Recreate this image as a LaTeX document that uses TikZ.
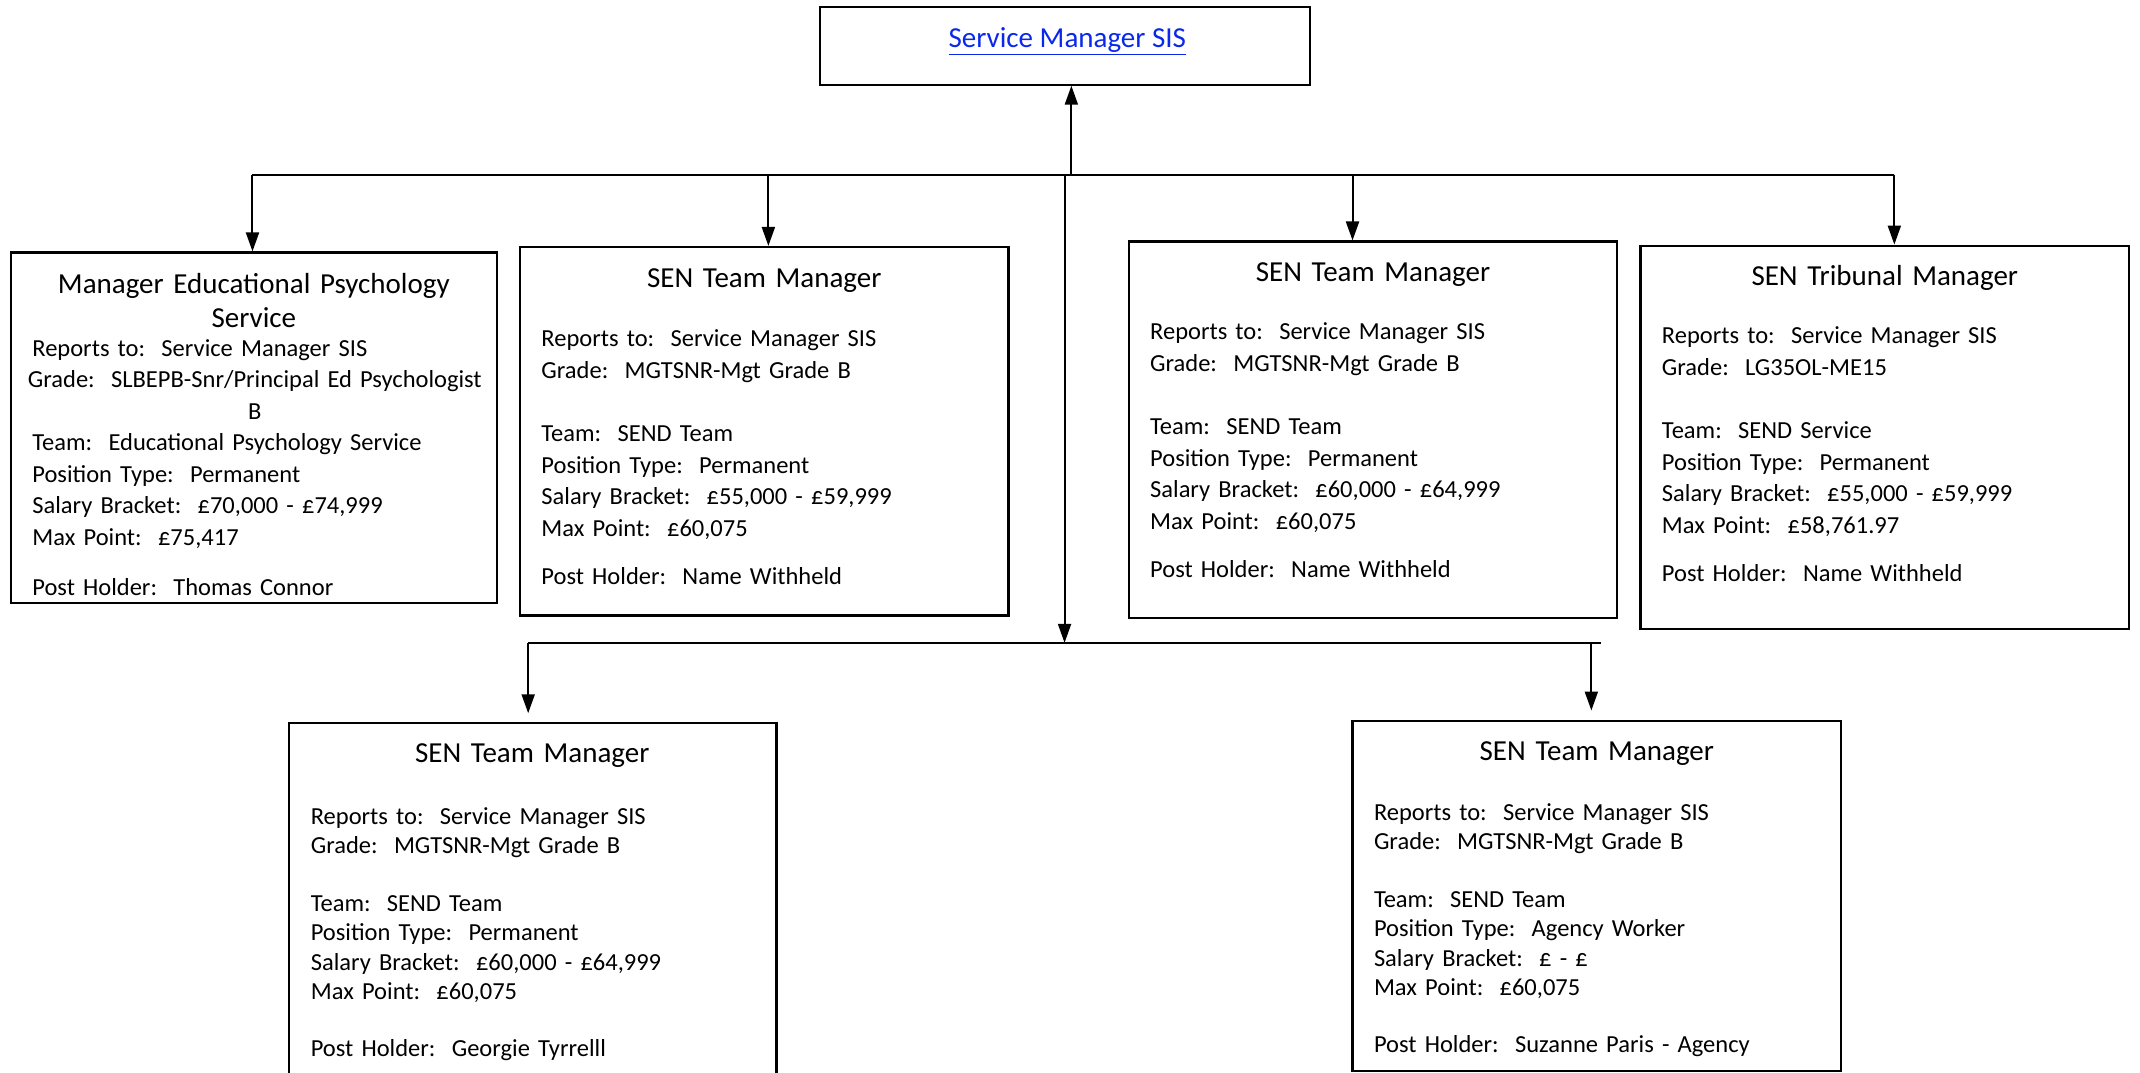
\documentclass[tikz,border=0pt]{standalone}
\usepackage{fontspec}
\setmainfont{Carlito}
\frenchspacing
\usetikzlibrary{arrows.meta,fit}
\definecolor{linkblue}{RGB}{10,40,235}

\tikzset{
  orgbox/.style={draw,line width=2.2pt,inner sep=0pt},
  posttitle/.style={anchor=base,inner sep=0pt,text width=460pt,align=center,font=\fontsize{29}{34.5}\selectfont},
  postbody/.style={anchor=base west,inner sep=0pt,text width=445pt,align=left,font=\fontsize{24.5}{31.5}\selectfont},
  lowbody/.style={postbody,font=\fontsize{24.5}{29.5}\selectfont}
}

\begin{document}
\begin{tikzpicture}[x=1.365pt,y=-1.365pt,line width=2pt,>={Triangle[length=19pt,width=13pt]}]
\useasboundingbox (0,0) rectangle (1568,786);
% head of service
\node[orgbox,fit={(601,5) (960,62)}] (sms) {};
\node[anchor=base,inner sep=0pt,font=\fontsize{29}{34}\selectfont,text=linkblue] (sms-t) at (782,35) {\underline{Service Manager SIS}};

% first row
\node[orgbox,fit={(8,185) (364,442)}] (edpsy) {};
\node[posttitle] (edpsy-t) at (186,215) {Manager Educational Psychology\\Service};
\node[postbody] (edpsy-b) at (23,261) {Reports to:~ Service Manager SIS\\
\makebox[\linewidth]{Grade:~ SLBEPB-Snr/Principal Ed Psychologist}\\
\makebox[\linewidth]{B}\\
Team:~ Educational Psychology Service\\
Position Type:~ Permanent\\
Salary Bracket:~ £70,000 - £74,999\\
Max Point:~ £75,417\\[19pt]
Post Holder:~ Thomas Connor};

\node[orgbox,fit={(381,181) (739,451)}] (sentma) {};
\node[posttitle] (sentma-t) at (560,211) {SEN Team Manager};
\node[postbody] (sentma-b) at (396,254) {Reports to:~ Service Manager SIS\\
Grade:~ MGTSNR-Mgt Grade B\\[32pt]
Team:~ SEND Team\\
Position Type:~ Permanent\\
Salary Bracket:~ £55,000 - £59,999\\
Max Point:~ £60,075\\[17pt]
Post Holder:~ Name Withheld};

\node[orgbox,fit={(827,177) (1185,453)}] (sentmb) {};
\node[posttitle] (sentmb-t) at (1006,206) {SEN Team Manager};
\node[postbody] (sentmb-b) at (842,249) {Reports to:~ Service Manager SIS\\
Grade:~ MGTSNR-Mgt Grade B\\[32pt]
Team:~ SEND Team\\
Position Type:~ Permanent\\
Salary Bracket:~ £60,000 - £64,999\\
Max Point:~ £60,075\\[17pt]
Post Holder:~ Name Withheld};

\node[orgbox,fit={(1202,180) (1560,461)}] (tribunal) {};
\node[posttitle] (tribunal-t) at (1381,209) {SEN Tribunal Manager};
\node[postbody] (tribunal-b) at (1217,252) {Reports to:~ Service Manager SIS\\
Grade:~ LG35OL-ME15\\[32pt]
Team:~ SEND Service\\
Position Type:~ Permanent\\
Salary Bracket:~ £55,000 - £59,999\\
Max Point:~ £58,761.97\\[17pt]
Post Holder:~ Name Withheld};

% second row
\node[orgbox,fit={(212,530) (569,800)}] (sentmc) {};
\node[posttitle] (sentmc-t) at (390,559) {SEN Team Manager};
\node[lowbody] (sentmc-b) at (227,604) {Reports to:~ Service Manager SIS\\
Grade:~ MGTSNR-Mgt Grade B\\[28pt]
Team:~ SEND Team\\
Position Type:~ Permanent\\
Salary Bracket:~ £60,000 - £64,999\\
Max Point:~ £60,075\\[27pt]
Post Holder:~ Georgie Tyrrelll};

\node[orgbox,fit={(991,528) (1349,785)}] (sentmd) {};
\node[posttitle] (sentmd-t) at (1170,557) {SEN Team Manager};
\node[lowbody] (sentmd-b) at (1006,601) {Reports to:~ Service Manager SIS\\
Grade:~ MGTSNR-Mgt Grade B\\[28pt]
Team:~ SEND Team\\
Position Type:~ Agency Worker\\
Salary Bracket:~ £ - £\\
Max Point:~ £60,075\\[27pt]
Post Holder:~ Suzanne Paris - Agency};

% connectors
\coordinate (busW) at (185,128);
\coordinate (busE) at (1388,128);
\coordinate (busB) at (563,128);
\coordinate (busC) at (991,128);
\coordinate (up) at (785,128);
\coordinate (drop) at (780,128);
\coordinate (lowbus) at (780,471);
\coordinate (lowW) at (387,471);
\coordinate (lowE) at (1173,471);
\coordinate (lowF) at (1166,471);

\draw (busW) -- (busE);
\draw[->] (up) -- (up |- sms.south);
\draw[->] (busW) -- (busW |- edpsy.north);
\draw[->] (busB) -- (busB |- sentma.north);
\draw[->] (busC) -- (busC |- sentmb.north);
\draw[->] (busE) -- (busE |- tribunal.north);
\draw[->] (drop) -- (lowbus);
\draw (lowW) -- (lowE);
\draw[->,shorten >=9pt] (lowW) -- (lowW |- sentmc.north);
\draw[->,shorten >=9pt] (lowF) -- (lowF |- sentmd.north);
\end{tikzpicture}
\end{document}
